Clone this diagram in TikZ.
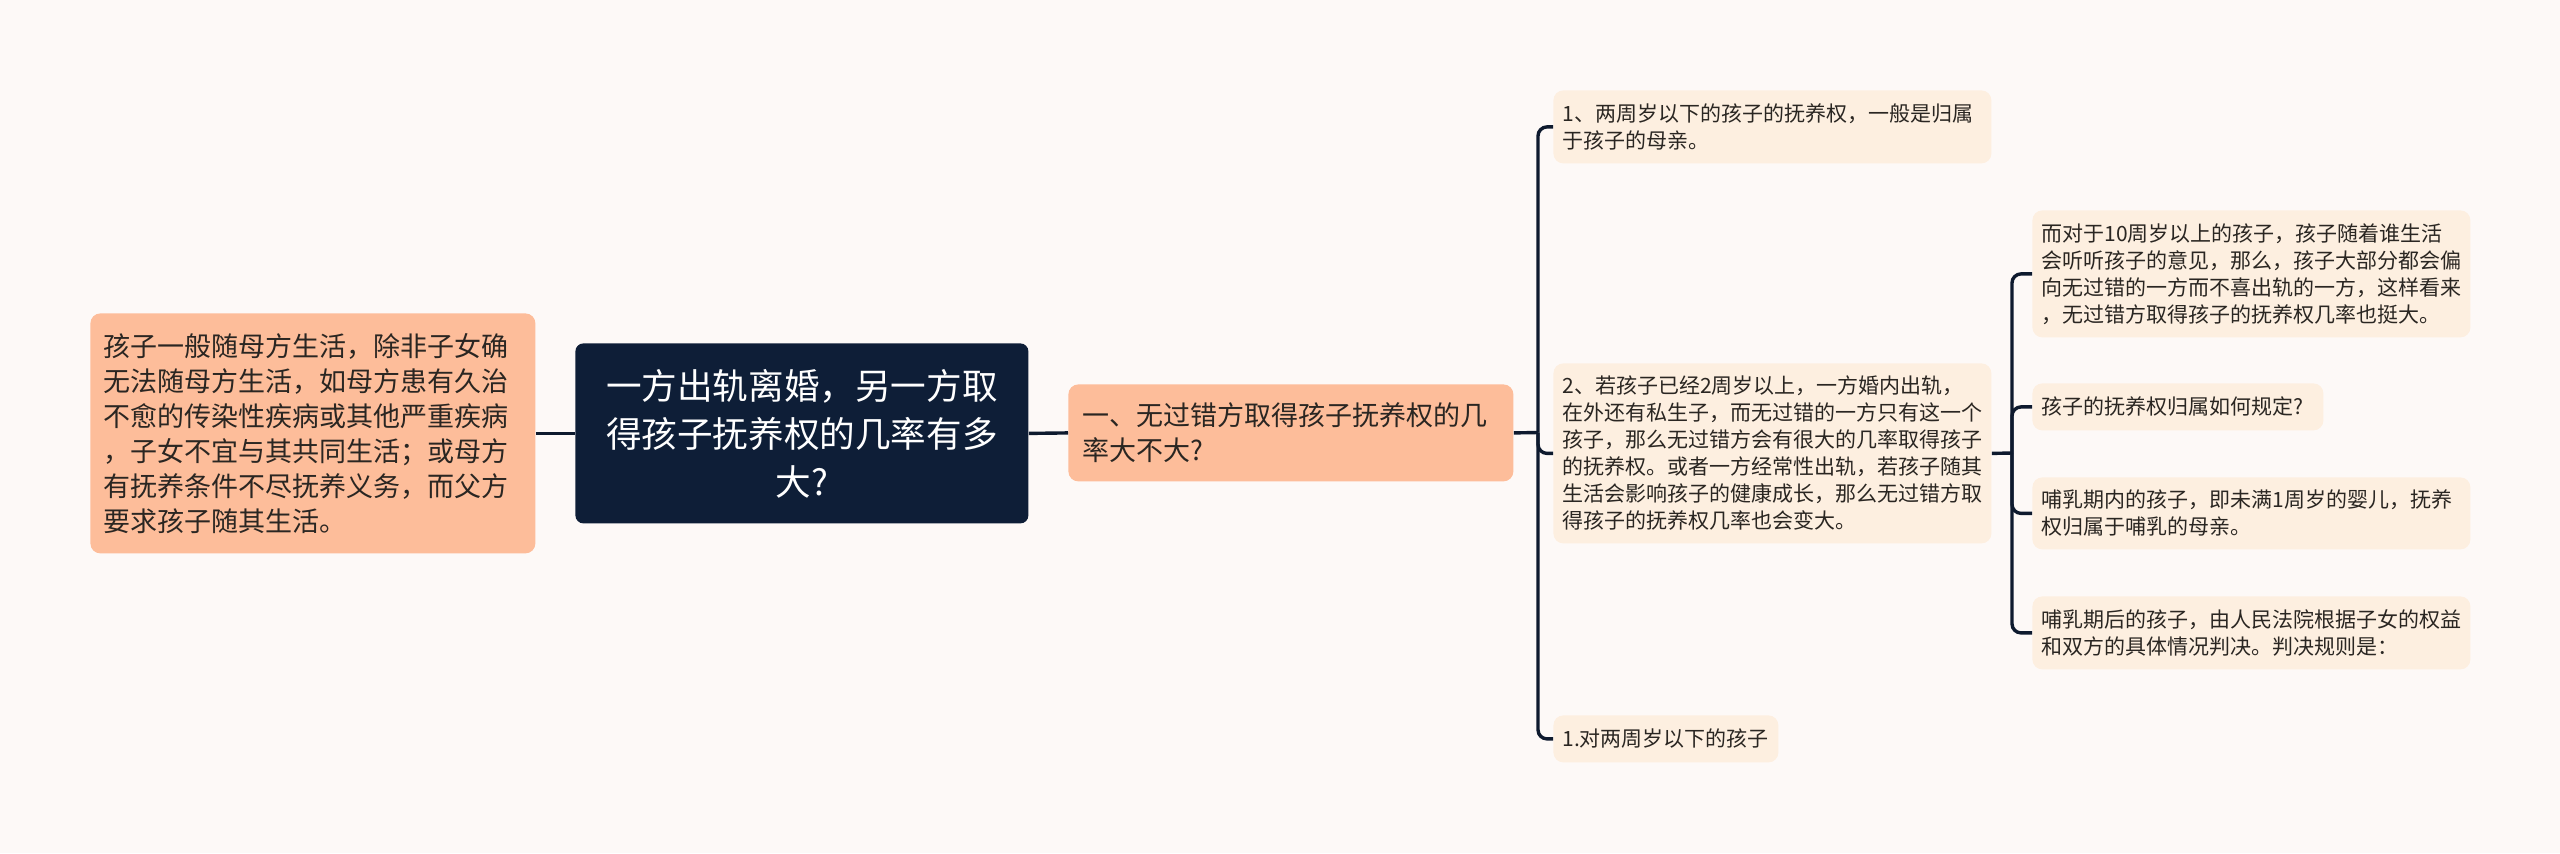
\documentclass[tikz,border=0pt]{standalone}
\usepackage{fontspec}
\setmainfont{Noto Sans CJK SC}
\definecolor{bgcol}{HTML}{FDF9F7}
\definecolor{rootcol}{HTML}{0E1E37}
\definecolor{salmon}{HTML}{FDBD9A}
\definecolor{leafcol}{HTML}{FDEFE0}
\definecolor{linecol}{HTML}{0E1A2E}
\definecolor{textcol}{HTML}{2A2622}
\begin{document}
\begin{tikzpicture}[x=0.5pt, y=-0.5pt,
    box/.style={anchor=north west, inner ysep=0pt, text=textcol},
    rootbox/.style={box, fill=rootcol, text=white, rounded corners=4pt, align=center,
        inner xsep=15pt, font=\fontsize{17.8}{24}\selectfont},
    mainbox/.style={box, fill=salmon, rounded corners=5pt, align=left,
        font=\fontsize{13.5}{17.5}\selectfont},
    leaf/.style={box, fill=leafcol, rounded corners=5pt, align=left, inner xsep=4.5pt,
        font=\fontsize{10.5}{13.5}\selectfont},
    conn/.style={draw=linecol, line width=1.7pt}]
    \fill[bgcol] (0,0) rectangle (2560,853);
    % main nodes
    \node[rootbox, text width=196.5pt, minimum height=90pt] (root) at (575,343)
        {一方出轨离婚，另一方取\\得孩子抚养权的几率有多\\大?};
    \node[mainbox, inner xsep=6.5pt, text width=209.5pt, minimum height=120pt] (reason) at (90,313)
        {孩子一般随母方生活，除非子女确\\无法随母方生活，如母方患有久治\\不愈的传染性疾病或其他严重疾病\\，子女不宜与其共同生活；或母方\\有抚养条件不尽抚养义务，而父方\\要求孩子随其生活。};
    \node[mainbox, inner xsep=7pt, text width=208.5pt, minimum height=48.5pt] (chance) at (1068,384)
        {一、无过错方取得孩子抚养权的几\\率大不大?};
    % second level
    \node[leaf, text width=210pt, minimum height=36.5pt] (under2) at (1553,90)
        {1、两周岁以下的孩子的抚养权，一般是归属\\于孩子的母亲。};
    \node[leaf, text width=210pt, minimum height=90pt] (over2) at (1553,363)
        {2、若孩子已经2周岁以上，一方婚内出轨，\\在外还有私生子，而无过错的一方只有这一个\\孩子，那么无过错方会有很大的几率取得孩子\\的抚养权。或者一方经常性出轨，若孩子随其\\生活会影响孩子的健康成长，那么无过错方取\\得孩子的抚养权几率也会变大。};
    \node[leaf, text width=103.5pt, minimum height=23.5pt] (rule) at (1553,715)
        {1.对两周岁以下的孩子};
    % third level
    \node[leaf, text width=210pt, minimum height=63.5pt] (over10) at (2032,210)
        {而对于10周岁以上的孩子，孩子随着谁生活\\会听听孩子的意见，那么，孩子大部分都会偏\\向无过错的一方而不喜出轨的一方，这样看来\\，无过错方取得孩子的抚养权几率也挺大。};
    \node[leaf, text width=136.5pt, minimum height=23.5pt] (howto) at (2032,383)
        {孩子的抚养权归属如何规定?};
    \node[leaf, text width=210pt, minimum height=36pt] (nursing) at (2032,477)
        {哺乳期内的孩子，即未满1周岁的婴儿，抚养\\权归属于哺乳的母亲。};
    \node[leaf, text width=210pt, minimum height=36.5pt] (after) at (2032,596)
        {哺乳期后的孩子，由人民法院根据子女的权益\\和双方的具体情况判决。判决规则是：};
    % connectors
    \coordinate (t1) at (1538,432.5);
    \coordinate (t2) at (2012,453);
    \draw[conn] (reason.east) -- (root.west);
    \draw[conn] (root.east) -- (chance.west);
    \draw[conn] (chance.east) -- (t1);
    \foreach \n in {under2,over2,rule}
        \draw[conn, rounded corners=4.5pt] (t1) |- (\n.west);
    \draw[conn] (over2.east) -- (t2);
    \foreach \n in {over10,howto,nursing,after}
        \draw[conn, rounded corners=4.5pt] (t2) |- (\n.west);
\end{tikzpicture}
\end{document}
